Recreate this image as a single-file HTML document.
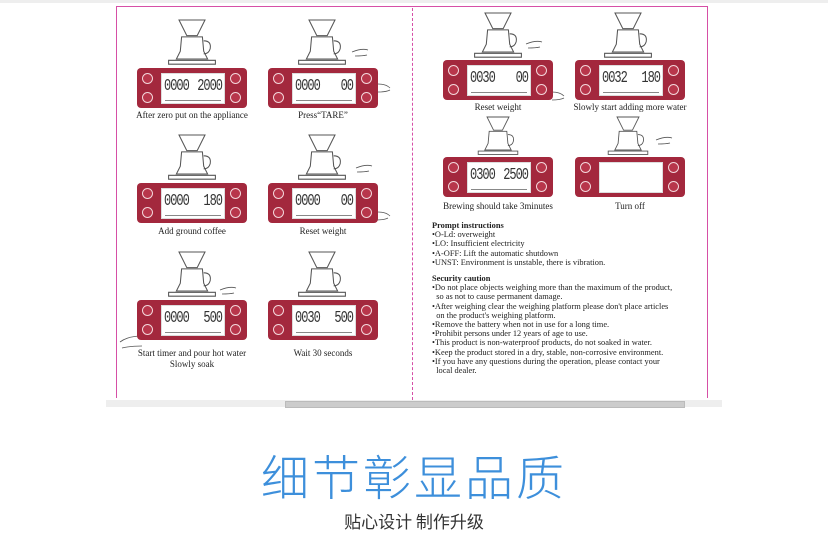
<!DOCTYPE html>
<html><head><meta charset="utf-8"><style>
body{margin:0;width:828px;height:553px;background:#fff;position:relative;overflow:hidden;font-family:"Liberation Serif",serif;}
.a{position:absolute}
.d{position:absolute;width:110px;height:40px;background:#a3283d;border-radius:4px}
.b{position:absolute;width:9px;height:9px;border-radius:50%;background:#b8364b;border:1.5px solid #f3d6da}
.l{position:absolute;left:24px;top:5px;width:62px;height:29px;background:#fff;border:1px solid #ddd}
.n1{position:absolute;left:2px;top:2px;font:12px "Liberation Mono",monospace;letter-spacing:-1px;color:#333;transform:scaleY(1.4);transform-origin:top}
.n2{position:absolute;right:2px;top:2px;font:12px "Liberation Mono",monospace;letter-spacing:-1px;color:#333;transform:scaleY(1.4);transform-origin:top}
.s{position:absolute;left:3px;right:3px;bottom:2px;height:3px;border-bottom:1px solid #888}
.t{position:absolute;font-size:9px;color:#222;text-align:center;width:160px;line-height:11px}
.p{position:absolute;font-size:8.4px;color:#222;line-height:9.2px;white-space:nowrap}
</style></head><body>
<div class="a" style="left:0;top:0;width:828px;height:3px;background:#eee"></div>
<div class="a" style="left:116px;top:6px;width:592px;height:392px;border:1px solid #d64fa6;border-bottom:none;box-sizing:border-box"></div>
<div class="a" style="left:412px;top:8px;height:392px;border-left:1px dashed #d64fa6"></div>
<div class="a" style="left:106px;top:400px;width:616px;height:7px;background:#eee"></div>
<div class="a" style="left:285px;top:401px;width:398px;height:5px;background:#ccc;border:1px solid #bbb"></div>

<svg class="a" style="left:0;top:0" width="828" height="400" fill="none" stroke="#555" stroke-width="0.8">
<defs><g id="k0"><path d="M-10 0 L10 0 L4 12 L-4 12 Z"/><path d="M-8 13 L8 13 L9 24 L12 30 L-12 30 L-9 24 Z"/><path d="M9 16 q6 0 5 6 q-1 4 -5 4"/><path d="M-18 31 L18 31 L18 34 L-18 34 Z"/></g>
<g id="kt" transform="scale(1.3)"><use href="#k0"/></g><g id="k2" transform="scale(1.1)"><use href="#k0"/></g></defs>
<use href="#kt" x="192" y="20"/><use href="#kt" x="322" y="20"/>
<use href="#kt" x="192" y="135"/><use href="#kt" x="322" y="135"/>
<use href="#kt" x="192" y="252"/><use href="#kt" x="322" y="252"/>
<use href="#kt" x="498" y="13"/><use href="#kt" x="628" y="13"/>
<use href="#k2" x="498" y="117"/><use href="#k2" x="628" y="117"/>
<path d="M352 52 q10 -4 16 -2 M355 56 q8 0 12 -1"/>
<path d="M356 168 q10 -4 16 -2 M357 172 q8 0 12 -1"/>
<path d="M220 290 q10 -4 16 -2 M222 294 q8 0 12 -1"/>
<path d="M526 44 q10 -4 16 -2 M528 48 q8 0 12 -1"/>
<path d="M656 140 q10 -4 16 -2 M658 144 q8 0 12 -1"/>
<path d="M378 84 q8 0 12 4 M378 92 q8 0 12 -2"/>
<path d="M378 212 q8 0 12 4 M376 220 q8 0 12 -2"/>
<path d="M120 342 q8 -6 22 -6 M122 348 q8 -2 20 -2"/>
<path d="M552 92 q8 0 12 4 M552 100 q8 0 12 -2"/>
</svg>

<div class="d" style="left:137px;top:68px"><div class="b" style="left:5px;top:5px"></div><div class="b" style="left:5px;top:24px"></div><div class="b" style="left:93px;top:5px"></div><div class="b" style="left:93px;top:24px"></div><div class="l"><span class="n1">0000</span><span class="n2">2000</span><div class="s"></div></div></div>
<div class="d" style="left:268px;top:68px"><div class="b" style="left:5px;top:5px"></div><div class="b" style="left:5px;top:24px"></div><div class="b" style="left:93px;top:5px"></div><div class="b" style="left:93px;top:24px"></div><div class="l"><span class="n1">0000</span><span class="n2">00</span><div class="s"></div></div></div>
<div class="d" style="left:137px;top:183px"><div class="b" style="left:5px;top:5px"></div><div class="b" style="left:5px;top:24px"></div><div class="b" style="left:93px;top:5px"></div><div class="b" style="left:93px;top:24px"></div><div class="l"><span class="n1">0000</span><span class="n2">180</span><div class="s"></div></div></div>
<div class="d" style="left:268px;top:183px"><div class="b" style="left:5px;top:5px"></div><div class="b" style="left:5px;top:24px"></div><div class="b" style="left:93px;top:5px"></div><div class="b" style="left:93px;top:24px"></div><div class="l"><span class="n1">0000</span><span class="n2">00</span><div class="s"></div></div></div>
<div class="d" style="left:137px;top:300px"><div class="b" style="left:5px;top:5px"></div><div class="b" style="left:5px;top:24px"></div><div class="b" style="left:93px;top:5px"></div><div class="b" style="left:93px;top:24px"></div><div class="l"><span class="n1">0000</span><span class="n2">500</span><div class="s"></div></div></div>
<div class="d" style="left:268px;top:300px"><div class="b" style="left:5px;top:5px"></div><div class="b" style="left:5px;top:24px"></div><div class="b" style="left:93px;top:5px"></div><div class="b" style="left:93px;top:24px"></div><div class="l"><span class="n1">0030</span><span class="n2">500</span><div class="s"></div></div></div>
<div class="d" style="left:443px;top:60px"><div class="b" style="left:5px;top:5px"></div><div class="b" style="left:5px;top:24px"></div><div class="b" style="left:93px;top:5px"></div><div class="b" style="left:93px;top:24px"></div><div class="l"><span class="n1">0030</span><span class="n2">00</span><div class="s"></div></div></div>
<div class="d" style="left:575px;top:60px"><div class="b" style="left:5px;top:5px"></div><div class="b" style="left:5px;top:24px"></div><div class="b" style="left:93px;top:5px"></div><div class="b" style="left:93px;top:24px"></div><div class="l"><span class="n1">0032</span><span class="n2">180</span><div class="s"></div></div></div>
<div class="d" style="left:443px;top:157px"><div class="b" style="left:5px;top:5px"></div><div class="b" style="left:5px;top:24px"></div><div class="b" style="left:93px;top:5px"></div><div class="b" style="left:93px;top:24px"></div><div class="l"><span class="n1">0300</span><span class="n2">2500</span><div class="s"></div></div></div>
<div class="d" style="left:575px;top:157px"><div class="b" style="left:5px;top:5px"></div><div class="b" style="left:5px;top:24px"></div><div class="b" style="left:93px;top:5px"></div><div class="b" style="left:93px;top:24px"></div><div class="l"></div></div>

<div class="t" style="left:112px;top:110px">After zero put on the appliance</div>
<div class="t" style="left:243px;top:110px">Press“TARE”</div>
<div class="t" style="left:112px;top:226px">Add ground coffee</div>
<div class="t" style="left:243px;top:226px">Reset weight</div>
<div class="t" style="left:112px;top:348px">Start timer and pour hot water<br>Slowly soak</div>
<div class="t" style="left:243px;top:348px">Wait 30 seconds</div>
<div class="t" style="left:418px;top:102px">Reset weight</div>
<div class="t" style="left:550px;top:102px">Slowly start adding more water</div>
<div class="t" style="left:418px;top:201px">Brewing should take 3minutes</div>
<div class="t" style="left:550px;top:201px">Turn off</div>

<div class="p" style="left:432px;top:221px"><b>Prompt instructions</b><br>•O-Ld: overweight<br>•LO: Insufficient electricity<br>•A-OFF: Lift the automatic shutdown<br>•UNST: Environment is unstable, there is vibration.</div>
<div class="p" style="left:432px;top:274px"><b>Security caution</b><br>•Do not place objects weighing more than the maximum of the product,<br>&nbsp; so as not to cause permanent damage.<br>•After weighing clear the weighing platform please don't place articles<br>&nbsp; on the product's weighing platform.<br>•Remove the battery when not in use for a long time.<br>•Prohibit persons under 12 years of age to use.<br>•This product is non-waterproof products, do not soaked in water.<br>•Keep the product stored in a dry, stable, non-corrosive environment.<br>•If you have any questions during the operation, please contact your<br>&nbsp; local dealer.</div>

<div class="a" style="left:0;width:828px;top:446px;text-align:center;font:300 48px 'Noto Sans CJK SC',sans-serif;color:#3d8fdb;letter-spacing:3px;line-height:56px">细节彰显品质</div>
<div class="a" style="left:0;width:828px;top:509px;text-align:center;font:17px 'Noto Sans CJK SC',sans-serif;color:#333;line-height:24px">贴心设计 制作升级</div>
</body></html>
